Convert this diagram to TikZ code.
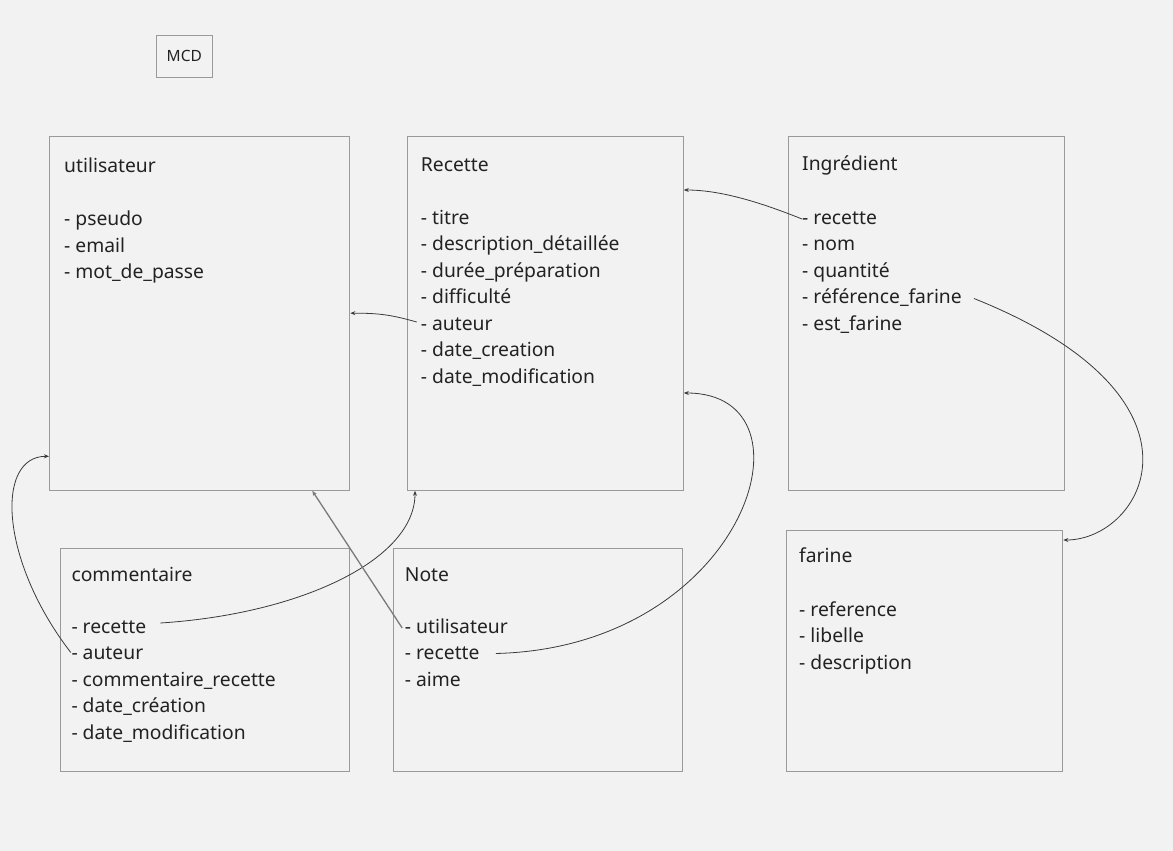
\documentclass[tikz,border=0pt]{standalone}
\usepackage{fontspec}
\setmainfont{Noto Sans}
\usetikzlibrary{arrows.meta,calc}
\definecolor{bg}{HTML}{F2F2F2}
\definecolor{boxline}{HTML}{9A9A9A}
\definecolor{txt}{HTML}{222222}
\definecolor{conncol}{HTML}{3A3A3A}
\definecolor{greyconn}{HTML}{7A7A7A}
\tikzset{
  entity/.style={draw=boxline, line width=1.3pt, anchor=north west, inner sep=0pt, rectangle},
  attr/.style={anchor=base west, inner sep=0pt, text=txt, text height=12pt, text depth=0pt,
               font=\fontsize{19.3}{22}\selectfont},
  conn/.style={draw=conncol, line width=0.8pt, -{Stealth[length=5pt,width=4pt]}},
  greyline/.style={draw=greyconn, line width=1.3pt, -{Stealth[length=5pt,width=4pt]}},
}
\begin{document}
\begin{tikzpicture}[x=1pt,y=-1pt]
\fill[bg] (0,0) rectangle (1173,851);
\useasboundingbox (0,0) rectangle (1173,851);

% MCD label
\node[draw=boxline, line width=1pt, minimum width=56pt, minimum height=42pt, inner sep=0pt,
      text=txt, font=\fontsize{15.5}{18}\selectfont] (mcd) at (184.3,56.3) {MCD};

% entity boxes
\node[entity, minimum width=300pt, minimum height=354pt] (util) at (49,135.5) {};
\node[entity, minimum width=276pt, minimum height=354pt] (rec) at (406.5,135.5) {};
\node[entity, minimum width=276pt, minimum height=354pt] (ing) at (788,135.5) {};
\node[entity, minimum width=289pt, minimum height=223pt] (com) at (60,547.5) {};
\node[entity, minimum width=289pt, minimum height=223pt] (note) at (393,547.5) {};
\node[entity, minimum width=276pt, minimum height=240.5pt] (far) at (786,530) {};

% utilisateur
\node[attr] (util-t) at (64,172) {utilisateur};
\node[attr] (util-1) at (64,225.5) {- pseudo};
\node[attr] (util-2) at (64,252) {- email};
\node[attr] (util-3) at (64,278.5) {- mot\_de\_passe};

% Recette
\node[attr] (rec-t) at (420.7,171) {Recette};
\node[attr] (rec-1) at (420.7,224) {- titre};
\node[attr] (rec-2) at (420.7,250.5) {- description\_détaillée};
\node[attr] (rec-3) at (420.7,277) {- durée\_préparation};
\node[attr] (rec-4) at (420.7,303.5) {- difficulté};
\node[attr] (rec-auteur) at (420.7,330) {- auteur};
\node[attr] (rec-6) at (420.7,356.5) {- date\_creation};
\node[attr] (rec-7) at (420.7,383) {- date\_modification};

% Ingredient
\node[attr] (ing-t) at (802,170.7) {Ingrédient};
\node[attr] (ing-recette) at (802,224) {- recette};
\node[attr] (ing-2) at (802,250.5) {- nom};
\node[attr] (ing-3) at (802,277) {- quantité};
\node[attr] (ing-ref) at (802,303.5) {- référence\_farine};
\node[attr] (ing-5) at (802,330) {- est\_farine};

% commentaire
\node[attr] (com-t) at (71.3,581) {commentaire};
\node[attr] (com-recette) at (71.3,633) {- recette};
\node[attr] (com-auteur) at (71.3,659.5) {- auteur};
\node[attr] (com-3) at (71.3,686) {- commentaire\_recette};
\node[attr] (com-4) at (71.3,712.5) {- date\_création};
\node[attr] (com-5) at (71.3,739) {- date\_modification};

% Note
\node[attr] (note-t) at (404.7,581) {Note};
\node[attr] (note-util) at (404.7,633) {- utilisateur};
\node[attr] (note-recette) at (404.7,659.5) {- recette};
\node[attr] (note-3) at (404.7,686) {- aime};

% farine
\node[attr] (far-t) at (799,562.7) {farine};
\node[attr] (far-1) at (799,616) {- reference};
\node[attr] (far-2) at (799,642.5) {- libelle};
\node[attr] (far-3) at (799,669) {- description};

% connectors
\draw[conn] ($(rec-auteur.west)+(-4,-2)$) .. controls +(-25,-7) and +(30,0) .. (util.east);
\draw[conn] ($(ing-recette.west)+(0,1)$) .. controls +(-35,-14) and +(40,0) .. ($(rec.north east)+(0,54.5)$);
\draw[conn] ($(ing-ref.east)+(12,1)$) .. controls +(250,100) and +(80,0) .. ($(far.north east)+(0,10)$);
\draw[conn] ($(note-recette.east)+(16,0)$) .. controls +(250,-6) and +(140,0) .. ($(rec.north east)+(0,257.5)$);
\draw[conn] ($(com-recette.east)+(14,-4)$) .. controls +(140,-9) and +(0,69) .. ($(rec.south west)+(8.5,0)$);
\draw[conn] ($(com-auteur.west)+(-0.5,-1)$) .. controls +(-71,-92) and +(-54,0) .. ($(util.south west)+(0,-34.5)$);
\draw[greyline] ($(note-util.west)+(-2.5,1)$) -- ($(util.south east)+(-38,0)$);
\end{tikzpicture}
\end{document}
